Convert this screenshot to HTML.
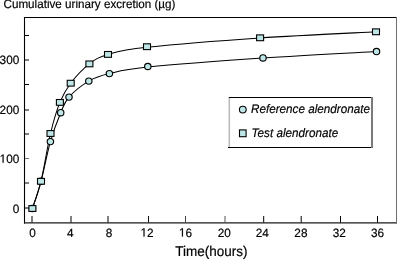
<!DOCTYPE html><html><head><meta charset="utf-8"><style>html,body{margin:0;padding:0;background:#fff;overflow:hidden;}svg{display:block;}text{font-family:"Liberation Sans",sans-serif;fill:#000;text-rendering:geometricPrecision;}</style></head><body>
<svg width="397" height="259" viewBox="0 0 397 259"><defs><filter id="gs" x="0" y="0" width="397" height="259" filterUnits="userSpaceOnUse"><feColorMatrix type="saturate" values="0"/></filter></defs>
<rect width="397" height="259" fill="#fff"/>
<line x1="24" y1="17.5" x2="396" y2="17.5" stroke="#000" stroke-width="1.1"/>
<line x1="24.5" y1="17" x2="24.5" y2="223.6" stroke="#000" stroke-width="1.1"/>
<line x1="24" y1="222.9" x2="397" y2="222.9" stroke="#1a1a1a" stroke-width="1.3"/>
<line x1="396.5" y1="17" x2="396.5" y2="223.5" stroke="#6e6e6e" stroke-width="1"/>
<line x1="25" y1="35.5" x2="29" y2="35.5" stroke="#000" stroke-width="1"/>
<line x1="25" y1="60.0" x2="29" y2="60.0" stroke="#000" stroke-width="1"/>
<line x1="25" y1="84.5" x2="29" y2="84.5" stroke="#000" stroke-width="1"/>
<line x1="25" y1="110.0" x2="29" y2="110.0" stroke="#000" stroke-width="1"/>
<line x1="25" y1="134.0" x2="29" y2="134.0" stroke="#000" stroke-width="1"/>
<line x1="25" y1="158.5" x2="29" y2="158.5" stroke="#777" stroke-width="1"/>
<line x1="25" y1="183.0" x2="29" y2="183.0" stroke="#000" stroke-width="1"/>
<line x1="25" y1="208.0" x2="29" y2="208.0" stroke="#000" stroke-width="1"/>
<line x1="32.0" y1="216" x2="32.0" y2="222.5" stroke="#000" stroke-width="1"/>
<line x1="71.0" y1="216" x2="71.0" y2="222.5" stroke="#000" stroke-width="1"/>
<line x1="108.0" y1="216" x2="108.0" y2="222.5" stroke="#000" stroke-width="1"/>
<line x1="148.5" y1="216" x2="148.5" y2="222.5" stroke="#111" stroke-width="1"/>
<line x1="185.5" y1="216" x2="185.5" y2="222.5" stroke="#444" stroke-width="1"/>
<line x1="225.0" y1="216" x2="225.0" y2="222.5" stroke="#555" stroke-width="1"/>
<line x1="263.7" y1="216" x2="263.7" y2="222.5" stroke="#000" stroke-width="1"/>
<line x1="301.2" y1="216" x2="301.2" y2="222.5" stroke="#000" stroke-width="1"/>
<line x1="340.5" y1="216" x2="340.5" y2="222.5" stroke="#000" stroke-width="1"/>
<line x1="377.5" y1="216" x2="377.5" y2="222.5" stroke="#000" stroke-width="1"/>
<path d="M32.40,208.50 C33.83,203.97 38.00,192.45 41.00,181.30 C44.00,170.15 47.12,153.03 50.40,141.60 C53.68,130.17 57.60,120.12 60.70,112.70 C63.80,105.28 64.32,102.37 69.00,97.10 C73.68,91.83 82.07,85.02 88.80,81.10 C95.53,77.18 99.57,75.93 109.40,73.60 C119.23,71.27 122.20,69.68 147.80,67.10 C173.40,64.52 224.88,60.68 263.00,58.10 C301.12,55.52 357.58,52.68 376.50,51.60" fill="none" stroke="#000" stroke-width="1.05"/>
<path d="M32.40,208.50 C33.83,203.97 37.98,193.80 41.00,181.30 C44.02,168.80 47.35,146.65 50.50,133.50 C53.65,120.35 56.53,110.78 59.90,102.40 C63.27,94.02 65.78,89.62 70.70,83.20 C75.62,76.78 83.18,68.70 89.40,63.90 C95.62,59.10 98.40,57.17 108.00,54.40 C117.60,51.63 121.65,50.03 147.00,47.30 C172.35,44.57 221.93,40.58 260.10,38.00 C298.27,35.42 356.68,32.83 376.00,31.80" fill="none" stroke="#000" stroke-width="1.05"/>
<ellipse cx="32.4" cy="208.5" rx="3.2" ry="3.15" fill="#bee6e6" stroke="#000" stroke-width="1.15"/>
<ellipse cx="41.0" cy="181.3" rx="3.2" ry="3.15" fill="#bee6e6" stroke="#000" stroke-width="1.15"/>
<ellipse cx="50.4" cy="141.6" rx="3.2" ry="3.15" fill="#bee6e6" stroke="#000" stroke-width="1.15"/>
<ellipse cx="60.7" cy="112.7" rx="3.2" ry="3.15" fill="#bee6e6" stroke="#000" stroke-width="1.15"/>
<ellipse cx="69.0" cy="97.1" rx="3.2" ry="3.15" fill="#bee6e6" stroke="#000" stroke-width="1.15"/>
<ellipse cx="88.8" cy="81.1" rx="3.2" ry="3.15" fill="#bee6e6" stroke="#000" stroke-width="1.15"/>
<ellipse cx="109.4" cy="73.6" rx="3.2" ry="3.15" fill="#bee6e6" stroke="#000" stroke-width="1.15"/>
<ellipse cx="147.8" cy="66.5" rx="3.2" ry="3.15" fill="#bee6e6" stroke="#000" stroke-width="1.15"/>
<ellipse cx="263.0" cy="57.9" rx="3.2" ry="3.15" fill="#bee6e6" stroke="#000" stroke-width="1.15"/>
<ellipse cx="376.5" cy="51.6" rx="3.2" ry="3.15" fill="#bee6e6" stroke="#000" stroke-width="1.15"/>
<rect x="28.9" y="205.6" width="7.0" height="5.8" fill="#bee6e6" stroke="#000" stroke-width="1.1"/>
<rect x="37.5" y="178.4" width="7.0" height="5.8" fill="#bee6e6" stroke="#000" stroke-width="1.1"/>
<rect x="47.0" y="130.6" width="7.0" height="5.8" fill="#bee6e6" stroke="#000" stroke-width="1.1"/>
<rect x="56.4" y="99.5" width="7.0" height="5.8" fill="#bee6e6" stroke="#000" stroke-width="1.1"/>
<rect x="67.2" y="80.3" width="7.0" height="5.8" fill="#bee6e6" stroke="#000" stroke-width="1.1"/>
<rect x="85.9" y="61.0" width="7.0" height="5.8" fill="#bee6e6" stroke="#000" stroke-width="1.1"/>
<rect x="104.5" y="51.5" width="7.0" height="5.8" fill="#bee6e6" stroke="#000" stroke-width="1.1"/>
<rect x="143.5" y="43.8" width="7.0" height="5.8" fill="#bee6e6" stroke="#000" stroke-width="1.1"/>
<rect x="256.6" y="34.9" width="7.0" height="5.8" fill="#bee6e6" stroke="#000" stroke-width="1.1"/>
<rect x="372.5" y="28.9" width="7.0" height="5.8" fill="#bee6e6" stroke="#000" stroke-width="1.1"/>
<rect x="228" y="97" width="145" height="51" fill="#fff"/>
<line x1="228.8" y1="97.5" x2="371" y2="97.5" stroke="#000" stroke-width="1.1"/>
<line x1="228" y1="147.5" x2="373" y2="147.5" stroke="#000" stroke-width="1.1"/>
<rect x="228.5" y="98" width="1.6" height="49" fill="#bdbdbd"/>
<rect x="371" y="97" width="2" height="51" fill="#7a7a7a"/>
<ellipse cx="242.8" cy="109.6" rx="3.4" ry="3.4" fill="#bee6e6" stroke="#000" stroke-width="1.1"/>
<rect x="239.5" y="129.9" width="6.6" height="6.8" fill="#bee6e6" stroke="#000" stroke-width="1.1"/>
<g filter="url(#gs)" fill="#000" stroke="#000" stroke-width="0.18">
<text transform="translate(3.50,8.30) scale(1,1.040)" font-size="11.66">Cumulative urinary excretion (µg)</text>
<text transform="translate(12.74,213.20) scale(1,1.020)" font-size="11.80">0</text>
<path transform="translate(-0.39,162.85) scale(0.00576,-0.00588)" stroke-width="31.2" d="M515,0 L515,1237 L197,1010 L197,1180 L530,1409 L696,1409 L696,0 Z"/>
<text transform="translate(6.17,162.85) scale(1,1.020)" font-size="11.80">00</text>
<text transform="translate(-0.39,113.90) scale(1,1.020)" font-size="11.80">200</text>
<text transform="translate(-0.39,63.60) scale(1,1.020)" font-size="11.80">300</text>
<text transform="translate(29.22,236.60) scale(1,1.020)" font-size="11.80">0</text>
<text transform="translate(67.12,236.60) scale(1,1.020)" font-size="11.80">4</text>
<text transform="translate(105.82,236.60) scale(1,1.020)" font-size="11.80">8</text>
<path transform="translate(140.54,236.60) scale(0.00576,-0.00588)" stroke-width="31.2" d="M515,0 L515,1237 L197,1010 L197,1180 L530,1409 L696,1409 L696,0 Z"/>
<text transform="translate(147.10,236.60) scale(1,1.020)" font-size="11.80">2</text>
<path transform="translate(178.94,236.60) scale(0.00576,-0.00588)" stroke-width="31.2" d="M515,0 L515,1237 L197,1010 L197,1180 L530,1409 L696,1409 L696,0 Z"/>
<text transform="translate(185.50,236.60) scale(1,1.020)" font-size="11.80">6</text>
<text transform="translate(217.64,236.60) scale(1,1.020)" font-size="11.80">20</text>
<text transform="translate(255.64,236.60) scale(1,1.020)" font-size="11.80">24</text>
<text transform="translate(294.34,236.60) scale(1,1.020)" font-size="11.80">28</text>
<text transform="translate(332.64,236.60) scale(1,1.020)" font-size="11.80">32</text>
<text transform="translate(370.94,236.60) scale(1,1.020)" font-size="11.80">36</text>
<text transform="translate(175.20,256.10) scale(1,1.040)" font-size="13.50">Time(hours)</text>
<text transform="translate(251.00,113.20) scale(1,1.060)" font-size="11.70" font-style="italic">Reference alendronate</text>
<text transform="translate(251.50,136.50) scale(1,1.060)" font-size="11.70" font-style="italic">Test alendronate</text>
</g></svg></body></html>
